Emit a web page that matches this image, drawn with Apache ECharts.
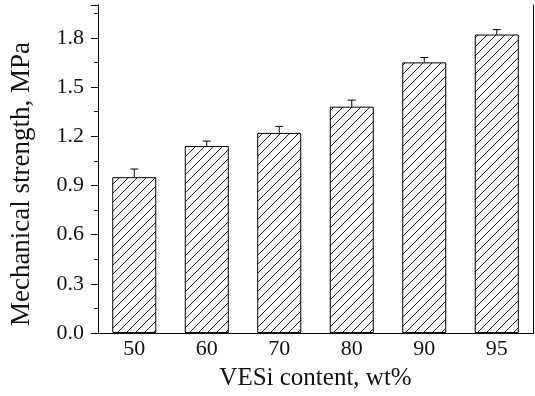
<!DOCTYPE html>
<html>
<head>
<meta charset="utf-8">
<script src="https://cdn.jsdelivr.net/npm/echarts@6/dist/echarts.min.js"></script>
<style>html,body{margin:0;padding:0;background:#fff}#c{width:535px;height:396px}</style>
</head>
<body>
<div id="c"></div>
<script>
const categories = ['50', '60', '70', '80', '90', '95'];
const strength = [0.95, 1.14, 1.22, 1.38, 1.65, 1.82];
const errors = [0.05, 0.03, 0.04, 0.04, 0.03, 0.03];
const yTicks = [0.0, 0.3, 0.6, 0.9, 1.2, 1.5, 1.8];

function hatch() {
  const s = 9;
  const c = document.createElement('canvas');
  c.width = s; c.height = s;
  const g = c.getContext('2d');
  g.fillStyle = '#fff'; g.fillRect(0, 0, s, s);
  g.strokeStyle = '#222'; g.lineWidth = 1;
  g.beginPath();
  g.moveTo(-1, s + 1); g.lineTo(s + 1, -1);
  g.moveTo(-1, 1); g.lineTo(1, -1);
  g.moveTo(s - 1, s + 1); g.lineTo(s + 1, s - 1);
  g.stroke();
  return c;
}

const font = 'Liberation Serif';
const chart = echarts.init(document.getElementById('c'));
chart.setOption({
  animation: false,
  backgroundColor: '#fff',
  grid: { left: 94, right: 2, top: 5, bottom: 61 },
  xAxis: [{
    type: 'category', data: categories, position: 'bottom',
    name: 'VESi content, wt%', nameLocation: 'middle', nameGap: 33,
    nameTextStyle: { fontFamily: font, fontSize: 25, color: '#111' },
    axisLine: { lineStyle: { color: '#000', width: 1 } },
    axisTick: { inside: true, length: 3, lineStyle: { color: '#999' } },
    axisLabel: { fontFamily: font, fontSize: 22, color: '#111', margin: 5 }
  }, {
    type: 'category', data: categories, position: 'top',
    axisLine: { lineStyle: { color: '#000', width: 1 } },
    axisTick: { inside: true, length: 3, lineStyle: { color: '#999' } },
    axisLabel: { show: false }
  }],
  yAxis: [{
    type: 'value', min: 0, max: 2.0, interval: 0.3, position: 'left',
    name: 'Mechanical strength, MPa', nameLocation: 'middle', nameGap: 63,
    nameTextStyle: { fontFamily: font, fontSize: 27, color: '#111', padding: [0, 30, 0, 0] },
    axisLine: { show: true, lineStyle: { color: '#000', width: 1 } },
    axisTick: { show: true, length: 7, lineStyle: { color: '#000' } },
    axisLabel: {
      fontFamily: font, fontSize: 22, color: '#111', margin: 14,
      formatter: v => yTicks.some(t => Math.abs(t - v) < 1e-6) ? v.toFixed(1) : ''
    },
    splitLine: { show: false }
  }, {
    type: 'value', min: 0, max: 2.0, interval: 0.15, position: 'left',
    axisLine: { show: true, lineStyle: { color: '#000', width: 1 } },
    axisTick: { show: true, length: 4, lineStyle: { color: '#000' } },
    axisLabel: { show: false },
    splitLine: { show: false }
  }, {
    type: 'value', min: 0, max: 2.0, position: 'right',
    axisLine: { show: true, lineStyle: { color: '#000', width: 1 } },
    axisTick: { show: false }, axisLabel: { show: false },
    splitLine: { show: false }
  }],
  series: [{
    type: 'bar', data: strength, barWidth: 44, xAxisIndex: 0, yAxisIndex: 0,
    itemStyle: { color: { image: hatch(), repeat: 'repeat' }, borderColor: '#000', borderWidth: 1 }
  }, {
    type: 'custom', xAxisIndex: 0, yAxisIndex: 0, z: 5,
    data: strength.map((v, i) => [i, v, errors[i]]),
    renderItem: function (params, api) {
      const b = api.coord([api.value(0), api.value(1)]);
      const t = api.coord([api.value(0), api.value(1) + api.value(2)]);
      const st = { stroke: '#000', lineWidth: 1 };
      return { type: 'group', children: [
        { type: 'line', shape: { x1: b[0], y1: b[1], x2: t[0], y2: t[1] }, style: st },
        { type: 'line', shape: { x1: t[0] - 4, y1: t[1], x2: t[0] + 4, y2: t[1] }, style: st }
      ] };
    }
  }]
});
</script>
</body>
</html>
